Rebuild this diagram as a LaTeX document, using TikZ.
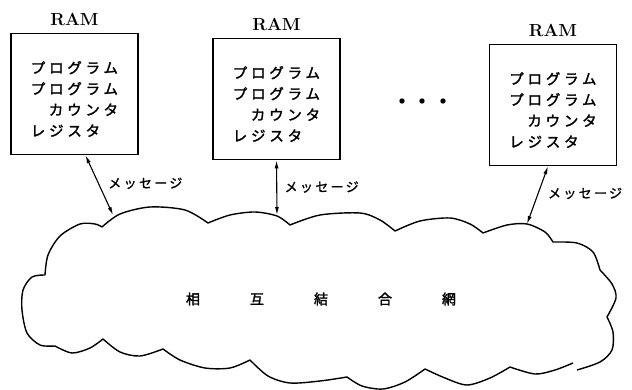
\documentclass[tikz,border=0pt]{standalone}
\usepackage{fontspec}
\newfontfamily\jpbox[LetterSpace=26,FakeBold=1.8]{Noto Sans CJK JP}
\newfontfamily\jpmsg[LetterSpace=18,FakeBold=1.2]{Noto Sans CJK JP}
\newfontfamily\jpnet[FakeBold=2]{Noto Sans CJK JP}
\usetikzlibrary{calc,positioning,arrows.meta}

\begin{document}
\begin{tikzpicture}[x=1pt,y=-1pt,
  rambox/.style={draw,line width=1.6pt,minimum width=127pt,minimum height=121pt,inner sep=0pt},
  ramtext/.style={align=left,inner sep=0pt,font=\jpbox\fontsize{14.5}{21}\selectfont},
  ramname/.style={inner sep=0pt,font=\bfseries\fontsize{17.5}{17.5}\selectfont},
  msg/.style={{Latex[length=8pt,width=4pt]}-{Latex[length=8pt,width=4pt]},line width=1.1pt},
  msgtext/.style={anchor=west,xshift=6pt,font=\jpmsg\fontsize{13}{13}\selectfont}]
\useasboundingbox (0,0) rectangle (632,390);

% processors
\node[rambox] (p1) at (74.5,94) {};
\node[rambox] (p2) at (276.5,99) {};
\node[rambox] (p3) at (553,105) {};
\foreach \i in {1,2,3} {
  \node[ramname, above=7pt of p\i] (r\i) {RAM};
  \node[ramtext] (t\i) at ([yshift=-5pt]p\i.center)
    {プログラム\\プログラム\\\hspace{18pt}カウンタ\\レジスタ};
}
\foreach \x in {402,422,443}
  \fill (\x,101) circle (2.7);

% network cloud
\draw[line width=1.4pt, line join=round]
  plot[smooth] coordinates {(102,227) (120,214) (150,207) (185,210) (208,223)}
  --plot[smooth] coordinates {(208,223) (230,215) (255,212) (277,216) (290,225)}
  --plot[smooth] coordinates {(290,225) (320,215) (360,213) (380,220) (395,231)}
  --plot[smooth] coordinates {(395,231) (420,221) (450,218) (470,224) (483,233)}
  --plot[smooth] coordinates {(483,233) (507,225) (527,224) (545,232) (553,242)}
  --plot[smooth] coordinates {(553,242) (577,243) (593,252) (600,270)}
  --plot[smooth] coordinates {(600,270) (612,284) (616,298) (607,317)}
  --plot[smooth] coordinates {(607,317) (613,332) (612,350) (600,362) (577,370)};
\draw[line width=1.4pt, line join=round]
  plot[smooth] coordinates {(573,363) (555,370) (535,374) (510,367)}
  --plot[smooth] coordinates {(510,367) (490,378) (467,385) (445,378) (425,369)}
  --plot[smooth] coordinates {(425,369) (405,382) (383,389) (362,386) (347,377)}
  --plot[smooth] coordinates {(347,377) (320,381) (290,383) (268,376) (250,360)}
  --plot[smooth] coordinates {(250,360) (230,368) (205,368) (180,360) (163,349)}
  --plot[smooth] coordinates {(163,349) (140,356) (120,352) (103,339)}
  --plot[smooth] coordinates {(103,339) (90,348) (72,353) (55,346)}
  --plot[smooth] coordinates {(55,346) (40,345) (27,333) (22,310) (23,290) (32,277) (45,275)}
  --plot[smooth] coordinates {(45,275) (48,255) (60,236) (80,224) (95,224) (102,227)};
\node[font=\jpnet\fontsize{14}{14}\selectfont] (net) at (321,299)
  {相\hspace{50pt}互\hspace{50pt}結\hspace{50pt}合\hspace{50pt}網};

% message links
\coordinate (m1) at (113,215);
\coordinate (m2) at (277,215);
\coordinate (m3) at (527,224);
\draw[msg] ($(p1.south)+(11,0)$) -- node[msgtext,pos=0.47] (l1) {メッセージ} (m1);
\draw[msg] (p2.south) -- node[msgtext,pos=0.49,xshift=-2pt] (l2) {メッセージ} (m2);
\draw[msg] ($(p3.south)+(-5,0)$) -- node[msgtext,pos=0.47] (l3) {メッセージ} (m3);
\end{tikzpicture}
\end{document}
